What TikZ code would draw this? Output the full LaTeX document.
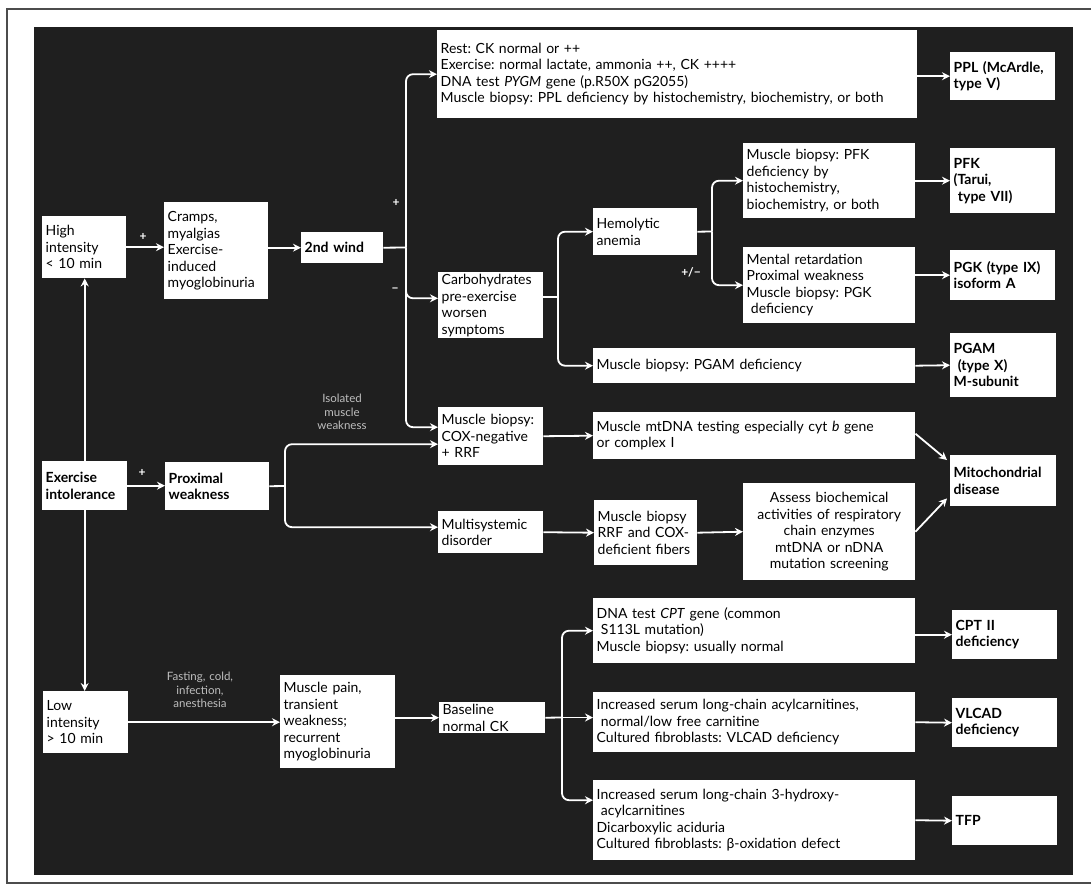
\documentclass[tikz,border=0pt]{standalone}
\usepackage{fontspec}
\setmainfont{Lato}[WordSpace=1.35]
\usetikzlibrary{arrows.meta}
\frenchspacing
\begin{document}
\begin{tikzpicture}[x=1pt,y=-1pt,
  box/.style={fill=white, draw=none, anchor=north west, align=left, inner xsep=3.5pt, inner ysep=2pt,
    font=\fontsize{14}{16.5}\selectfont, text=black},
  fin/.style={box, font=\bfseries\fontsize{14}{16.5}\selectfont},
  arr/.style={draw=white, line width=1.8pt, -{Stealth[length=8pt,width=8pt]}},
  ln/.style={draw=white, line width=1.8pt},
  rc/.style={rounded corners=7pt},
  sign/.style={text=white, font=\bfseries\fontsize{12}{13}\selectfont, inner sep=1pt},
  lab/.style={text=black!25, font=\fontsize{11.5}{13.5}\selectfont, align=center, inner sep=1pt}
]
\useasboundingbox (0,0) rectangle (1091,892);
\fill[white] (0,0) rectangle (1091,892);
\draw[black!70, line width=1.2pt] (1091,9) -- (7,9) -- (7,883) -- (1091,883);
\fill[black!88] (34,27) rectangle (1073,875);

% left column
\node[box, text width=77pt, minimum height=62pt] (high) at (42,216) {High\\intensity\\< 10 min};
\node[fin, text width=78pt, minimum height=49pt] (exint) at (42,461) {Exercise\\intolerance};
\node[box, text width=78pt, minimum height=62pt] (low) at (43,691) {Low\\intensity\\> 10 min};

\node[box, text width=97pt, minimum height=97pt] (cramps) at (164,202) {Cramps,\\myalgias\\Exercise-\\induced\\myoglobinuria};
\node[fin, text width=75pt, minimum height=31pt] (wind) at (301,232) {2nd wind};
\node[fin, text width=97pt, minimum height=48pt] (prox) at (165,462) {Proximal\\weakness};
\node[box, text width=108pt, minimum height=93pt] (pain) at (280,675) {Muscle pain,\\transient\\weakness;\\recurrent\\myoglobinuria};

% middle column
\node[box, text width=473pt, minimum height=88pt] (rest) at (437,30) {Rest: CK normal or ++\\Exercise: normal lactate, ammonia ++, CK ++++\\DNA test \textit{PYGM} gene (p.R50X pG2055)\\Muscle biopsy: PPL deficiency by histochemistry, biochemistry, or both};
\node[box, text width=98pt, minimum height=64pt] (carbo) at (438,272) {Carbohydrates\\pre-exercise\\worsen\\symptoms};
\node[box, text width=98pt, minimum height=58pt] (cox) at (438,407) {Muscle biopsy:\\COX-negative\\+ RRF};
\node[box, text width=98pt, minimum height=42pt] (multi) at (438,511) {Multisystemic\\disorder};
\node[box, text width=99pt, minimum height=31pt] (base) at (439,702) {Baseline\\normal CK};

\node[box, text width=97pt, minimum height=47pt] (hemo) at (593,208) {Hemolytic\\anemia};
\node[box, text width=315pt, minimum height=35pt] (pgamb) at (593,348) {Muscle biopsy: PGAM deficiency};
\node[box, text width=315pt, minimum height=47pt] (mtdna) at (593,412) {Muscle mtDNA testing especially cyt \textit{b} gene\\or complex I};
\node[box, text width=96pt, minimum height=65pt] (rrf) at (594,500) {Muscle biopsy\\RRF and COX-\\deficient fibers};
\node[box, text width=315pt, minimum height=65pt] (cpttest) at (593,598) {DNA test \textit{CPT} gene (common\\\hspace*{.3em}S113L mutation)\\Muscle biopsy: usually normal};
\node[box, text width=315pt, minimum height=60pt] (vltest) at (593,692) {Increased serum long-chain acylcarnitines,\\\hspace*{.3em}normal/low free carnitine\\Cultured fibroblasts: VLCAD deficiency};
\node[box, text width=315pt, minimum height=80pt] (tfptest) at (593,780) {Increased serum long-chain 3-hydroxy-\\\hspace*{.3em}acylcarnitines\\Dicarboxylic aciduria\\Cultured fibroblasts: β-oxidation defect};

\node[box, text width=165pt, minimum height=75pt] (pfkb) at (743,143) {Muscle biopsy: PFK\\deficiency by\\histochemistry,\\biochemistry, or both};
\node[box, text width=165pt, minimum height=76pt] (mental) at (743,247) {Mental retardation\\Proximal weakness\\Muscle biopsy: PGK\\\hspace*{.3em}deficiency};
\node[box, text width=165pt, minimum height=97pt, align=center] (assess) at (743,483) {Assess biochemical\\activities of respiratory\\chain enzymes\\mtDNA or nDNA\\mutation screening};

% final diagnoses
\node[fin, text width=98pt, minimum height=48pt] (ppl) at (950,52) {PPL (McArdle,\\type V)};
\node[fin, text width=98pt, minimum height=65pt] (pfk) at (950,148) {PFK\\(Tarui,\\\hspace*{.3em}type VII)};
\node[fin, text width=98pt, minimum height=50pt] (pgk) at (950,250) {PGK (type IX)\\isoform A};
\node[fin, text width=99pt, minimum height=64pt] (pgam) at (950,333) {PGAM\\\hspace*{.3em}(type X)\\M-subunit};
\node[fin, text width=99pt, minimum height=51pt] (mito) at (950,455) {Mitochondrial\\disease};
\node[fin, text width=98pt, minimum height=49pt] (cpt) at (952,610) {CPT II\\deficiency};
\node[fin, text width=98pt, minimum height=49pt] (vlcad) at (952,698) {VLCAD\\deficiency};
\node[fin, text width=98pt, minimum height=49pt] (tfp) at (952,796) {TFP};

% connectors: left
\draw[arr] (exint.north) -- (exint.north |- high.south);
\draw[arr] (exint.south) -- (exint.south |- low.north);
\draw[arr] (high.east) -- (high.east -| cramps.west);
\draw[arr] (cramps.east |- wind.west) -- (wind.west);
\draw[arr] (exint.east) -- (exint.east -| prox.west);
\draw[arr] (low.east) -- (low.east -| pain.west);
\draw[arr] (pain.east |- base.west) -- (base.west);

% 2nd wind spine
\coordinate (s1) at (406,247.5);
\draw[ln] (wind.east) -- (s1);
\draw[arr,rc] (s1) |- (rest.west);
\draw[arr,rc] (s1) |- ([yshift=7pt]carbo.west);
\draw[arr,rc] (s1) |- ([yshift=9pt]cox.west);

% carbohydrates spine
\coordinate (s2) at (558,297);
\draw[ln] (carbo.east |- s2) -- (s2);
\draw[arr,rc] (s2) |- (hemo.west);
\draw[arr,rc] (s2) |- (pgamb.west);

% hemolytic spine
\coordinate (s3) at (712,231.5);
\draw[ln] (hemo.east) -- (s3);
\draw[arr,rc] (s3) |- (pfkb.west);
\draw[arr,rc] (s3) |- (mental.west);

% proximal weakness bracket
\coordinate (s4) at (285,486);
\draw[ln] (prox.east) -- (s4);
\draw[arr,rc] (s4) |- ([yshift=-8pt]cox.west);
\draw[arr,rc] (s4) |- ([yshift=5pt]multi.west);

% baseline spine
\coordinate (s5) at (562,717.5);
\draw[ln] (base.east) -- (s5);
\draw[arr,rc] (s5) |- (cpttest.west);
\draw[arr] (s5) -- (s5 -| vltest.west);
\draw[arr,rc] (s5) |- ([yshift=20pt]tfptest.west);

% to final diagnoses
\draw[arr] (rest.east |- ppl.west) -- (ppl.west);
\draw[arr] (pfkb.east) -- (pfk.west);
\draw[arr] (mental.east |- pgk.west) -- (pgk.west);
\draw[arr] (pgamb.east) -- (pgam.west);
\draw[arr] (cox.east) -- (mtdna.west);
\draw[arr] (multi.east) -- (rrf.west);
\draw[arr] (rrf.east) -- (assess.west);
\draw[arr] ([yshift=2pt]mtdna.east) -- ([xshift=-3pt,yshift=-5pt]mito.north west);
\draw[arr] (assess.east) -- ([xshift=-3pt,yshift=8pt]mito.south west);
\draw[arr] (cpttest.east |- cpt.west) -- (cpt.west);
\draw[arr] (vltest.east) -- (vlcad.west);
\draw[arr] (tfptest.east) -- (tfp.west);

% signs and labels
\node[sign] (p1) at (143,237) {+};
\node[sign] (p2) at (142,473) {+};
\node[sign] (p3) at (396,203) {+};
\node[sign] (p4) at (395,290) {−};
\node[sign] (p5) at (691,272) {+/−};
\node[lab] (iso) at (342,412) {Isolated\\muscle\\weakness};
\node[lab] (fast) at (200,690) {Fasting, cold,\\infection,\\anesthesia};
\end{tikzpicture}
\end{document}
